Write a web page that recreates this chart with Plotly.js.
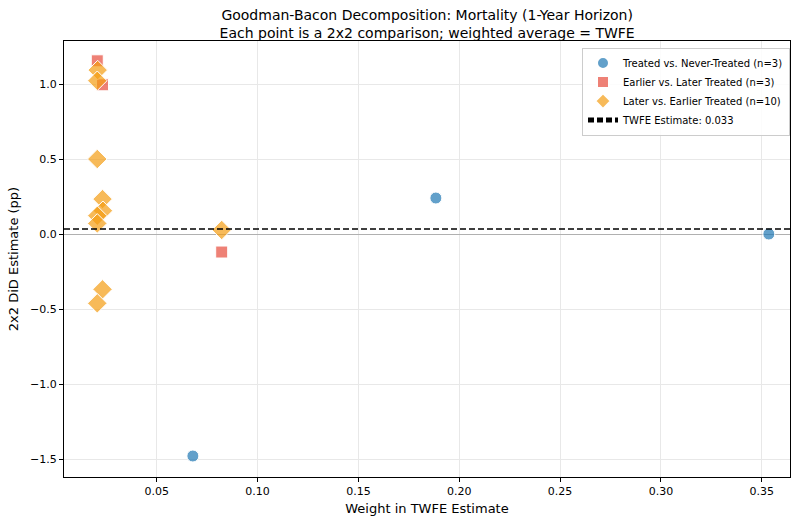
<!DOCTYPE html>
<html>
<head>
<meta charset="utf-8">
<script src="https://cdn.plot.ly/plotly-3.0.1.min.js"></script>
<style>body{margin:0;padding:0;background:#fff}#chart{width:791px;height:517px}</style>
</head>
<body>
<div id="chart"></div>
<script>
// Treated vs. Never-Treated
const tnX = [0.0679, 0.1884, 0.3535];
const tnY = [-1.48, 0.24, 0.0];
// Earlier vs. Later Treated
const elX = [0.0205, 0.0231, 0.0822];
const elY = [1.155, 0.995, -0.12];
// Later vs. Earlier Treated
const leX = [0.0207, 0.0205, 0.0205, 0.0231, 0.0233, 0.0205, 0.0205, 0.0231, 0.0205, 0.0822];
const leY = [1.093, 1.022, 0.5, 0.233, 0.155, 0.122, 0.071, -0.369, -0.462, 0.027];
const twfe = 0.033;
const xRange = [0.004, 0.364];
const yRange = [-1.62, 1.287];
const xTicks = [0.05, 0.10, 0.15, 0.20, 0.25, 0.30, 0.35];
const yTicks = [-1.5, -1.0, -0.5, 0.0, 0.5, 1.0];

const font = "DejaVu Sans, sans-serif";
const traces = [
  {x: tnX, y: tnY, type: 'scatter', mode: 'markers', name: 'Treated vs. Never-Treated (n=3)',
   marker: {symbol: 'circle', size: 12, color: 'rgba(31,119,180,0.7)', line: {color: '#fff', width: 1}}},
  {x: elX, y: elY, type: 'scatter', mode: 'markers', name: 'Earlier vs. Later Treated (n=3)',
   marker: {symbol: 'square', size: 12, color: 'rgba(231,76,60,0.7)', line: {color: '#fff', width: 1}}},
  {x: leX, y: leY, type: 'scatter', mode: 'markers', name: 'Later vs. Earlier Treated (n=10)',
   marker: {symbol: 'diamond', size: 15, color: 'rgba(243,156,18,0.7)', line: {color: '#fff', width: 1}}},
  {x: xRange, y: [twfe, twfe], type: 'scatter', mode: 'lines', name: 'TWFE Estimate: 0.033',
   line: {color: '#000', width: 1.5, dash: '6px,3px'}}
];

const layout = {
  width: 791, height: 517,
  margin: {l: 64, r: 1, t: 41, b: 40},
  paper_bgcolor: '#fff', plot_bgcolor: '#fff',
  font: {family: font, size: 11, color: '#000'},
  title: {text: 'Goodman-Bacon Decomposition: Mortality (1-Year Horizon)<br>Each point is a 2x2 comparison; weighted average = TWFE',
          x: 0.54, xanchor: 'center', xref: 'container', yref: 'container', y: 0.962, yanchor: 'top',
          font: {family: font, size: 14, color: '#000'}},
  xaxis: {range: xRange, tickvals: xTicks, tickformat: '.2f', showgrid: true, gridcolor: '#e8e8e8', gridwidth: 1,
          zeroline: false, showline: true, linecolor: '#000', linewidth: 1, mirror: true,
          ticks: 'outside', ticklen: 4, tickcolor: '#000',
          title: {text: 'Weight in TWFE Estimate', font: {family: font, size: 13}, standoff: 6}},
  yaxis: {range: yRange, tickvals: yTicks, tickformat: '.1f', showgrid: true, gridcolor: '#e8e8e8', gridwidth: 1,
          zeroline: true, zerolinecolor: '#b0b0b0', zerolinewidth: 1,
          showline: true, linecolor: '#000', linewidth: 1, mirror: true,
          ticks: 'outside', ticklen: 4, tickcolor: '#000',
          title: {text: '2x2 DiD Estimate (pp)', font: {family: font, size: 13}, standoff: 8}},
  legend: {x: 1, xanchor: 'right', y: 0.985, yanchor: 'top', bgcolor: 'rgba(255,255,255,0.85)',
           bordercolor: '#ccc', borderwidth: 1, font: {family: font, size: 10}, tracegroupgap: 0,
           itemwidth: 30, itemsizing: 'constant'},
  showlegend: true
};

Plotly.newPlot('chart', traces, layout, {displayModeBar: false, staticPlot: true});
</script>
</body>
</html>
